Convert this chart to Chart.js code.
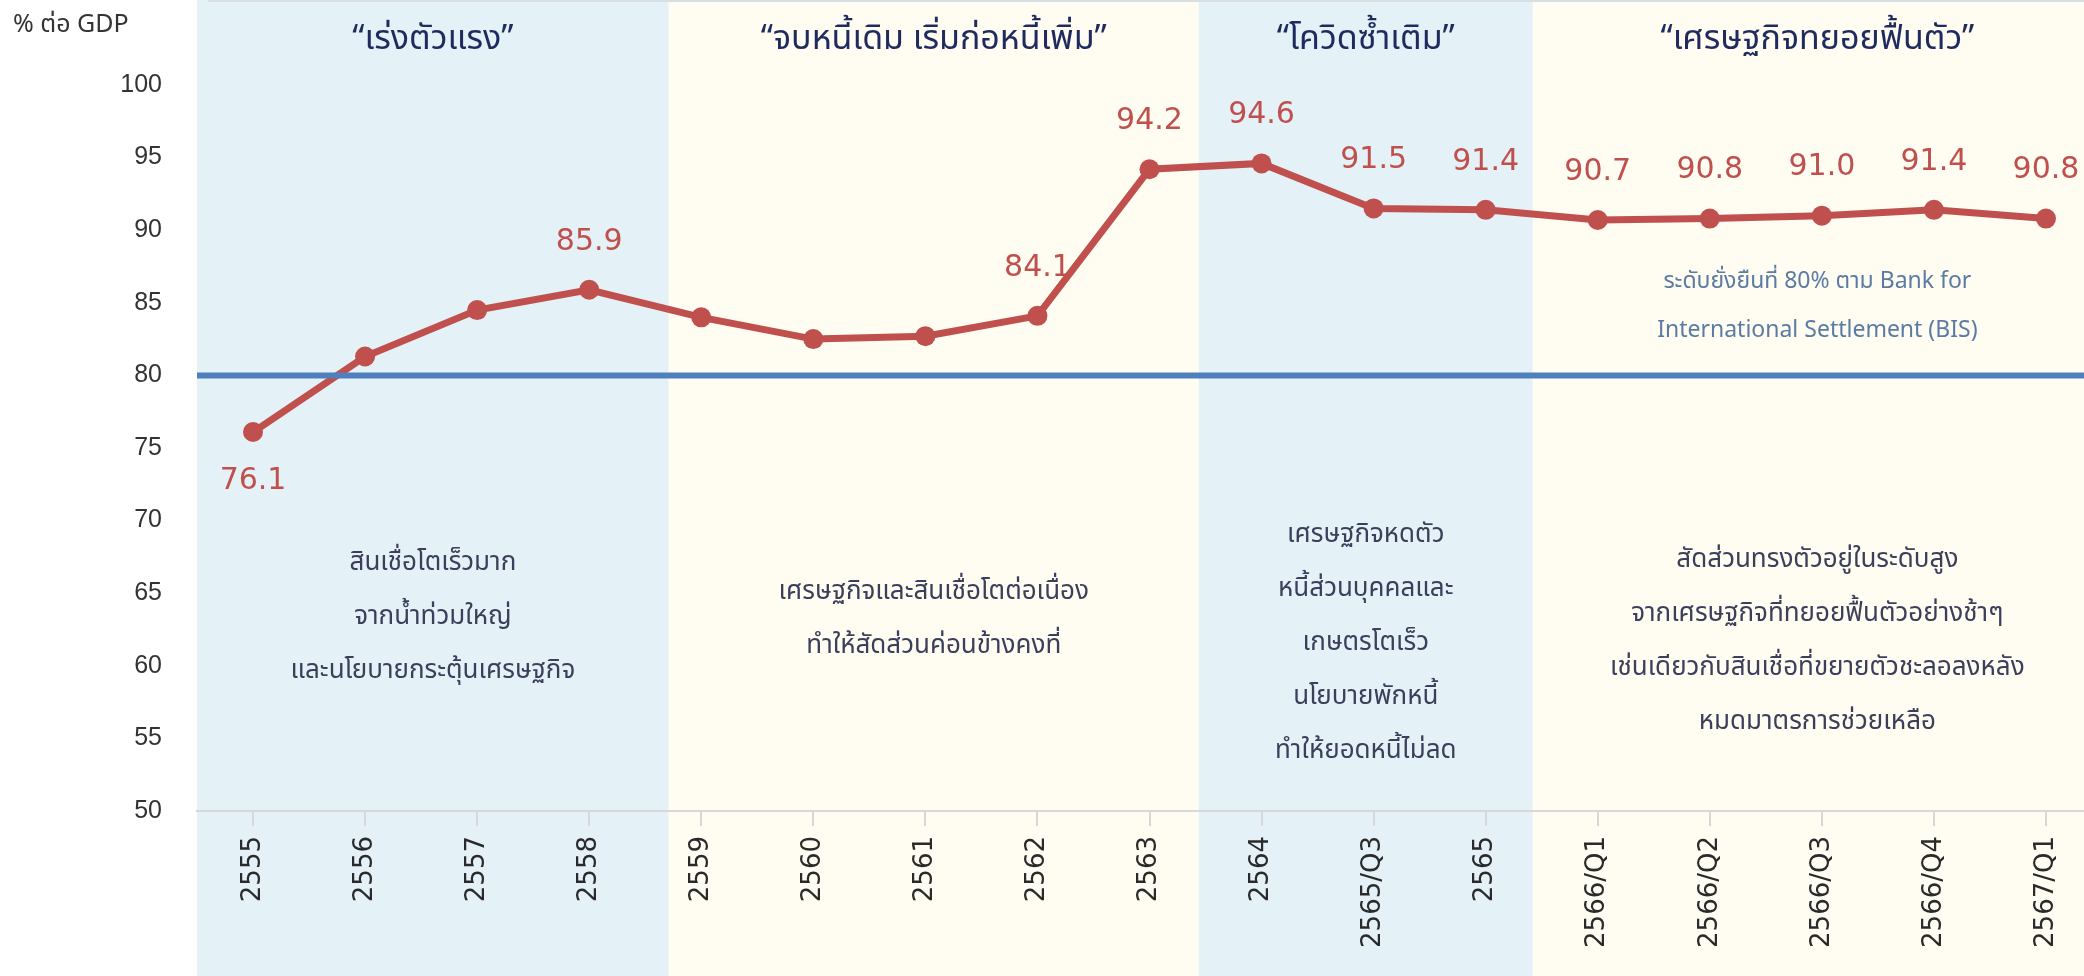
<!DOCTYPE html>
<html>
<head>
<meta charset="utf-8">
<script src="https://cdn.jsdelivr.net/npm/chart.js@4.4.1/dist/chart.umd.min.js"></script>
<style>
  html, body { margin: 0; padding: 0; background: #fff; overflow: hidden; }
  #wrap { width: 2112px; height: 976px; position: relative; }
</style>
</head>
<body>
<div id="wrap"><canvas id="debt"></canvas></div>
<script>
// household debt to GDP (% ต่อ GDP)
const periods = ["2555", "2556", "2557", "2558", "2559", "2560", "2561", "2562", "2563",
  "2564", "2565/Q3", "2565", "2566/Q1", "2566/Q2", "2566/Q3", "2566/Q4", "2567/Q1"];
const debtRatio = [76.1, 81.3, 84.5, 85.9, 84.0, 82.5, 82.7, 84.1, 94.2,
  94.6, 91.5, 91.4, 90.7, 90.8, 91.0, 91.4, 90.8];
// which points carry a value label, and which one sits below the point
const showLabel = [1, 0, 0, 1, 0, 0, 0, 1, 1, 1, 1, 1, 1, 1, 1, 1, 1];
const labelBelow = [1, 0, 0, 0, 0, 0, 0, 0, 0, 0, 0, 0, 0, 0, 0, 0, 0];
const sustainableLevel = 80;
const yMin = 50, yMax = 100, yStep = 5;

// phases (edges in category index units)
const phaseEdges = [-0.5, 3.71, 8.44, 11.42, 16.5];
const phaseTitles = ["“เร่งตัวแรง”", "“จบหนี้เดิม เริ่มก่อหนี้เพิ่ม”", "“โควิดซ้ำเติม”", "“เศรษฐกิจทยอยฟื้นตัว”"];
const phaseNotes = [
  ["สินเชื่อโตเร็วมาก", "จากน้ำท่วมใหญ่", "และนโยบายกระตุ้นเศรษฐกิจ"],
  ["เศรษฐกิจและสินเชื่อโตต่อเนื่อง", "ทำให้สัดส่วนค่อนข้างคงที่"],
  ["เศรษฐกิจหดตัว", "หนี้ส่วนบุคคลและ", "เกษตรโตเร็ว", "นโยบายพักหนี้", "ทำให้ยอดหนี้ไม่ลด"],
  ["สัดส่วนทรงตัวอยู่ในระดับสูง", "จากเศรษฐกิจที่ทยอยฟื้นตัวอย่างช้าๆ", "เช่นเดียวกับสินเชื่อที่ขยายตัวชะลอลงหลัง", "หมดมาตรการช่วยเหลือ"]
];
const bisNote = ["ระดับยั่งยืนที่ 80% ตาม Bank for", "International Settlement (BIS)"];
const yTitle = "% ต่อ GDP";

const phaseFill = ["#e4f1f7", "#fffcf1", "#e4f1f7", "#fffcf1"];
const noteTop = [565, 594, 537, 562];
const thaiFont = '"Noto Sans Thai", "Noto Sans Thai Looped", Garuda, Loma, Sarabun, "Noto Sans", sans-serif';

const decor = {
  id: "decor",
  beforeDraw(chart) {
    const ctx = chart.ctx, x = chart.scales.x;
    ctx.save();
    for (let i = 0; i < phaseFill.length; i++) {
      const a = x.getPixelForValue(phaseEdges[i]);
      const b = x.getPixelForValue(phaseEdges[i + 1]);
      ctx.fillStyle = phaseFill[i];
      ctx.fillRect(a, 0, b - a, chart.height);
    }
    ctx.fillStyle = "#d9dee3";
    ctx.fillRect(x.getPixelForValue(-0.4), 0, chart.width, 2);
    ctx.restore();
  },
  beforeDatasetsDraw(chart) {
    const ctx = chart.ctx, x = chart.scales.x;
    ctx.save();
    ctx.textAlign = "center";
    ctx.textBaseline = "middle";
    for (let i = 0; i < phaseTitles.length; i++) {
      const cx = x.getPixelForValue((phaseEdges[i] + phaseEdges[i + 1]) / 2);
      ctx.fillStyle = "#1f2b5e";
      ctx.font = "34px " + thaiFont;
      ctx.fillText(phaseTitles[i], cx, 42);
      ctx.fillStyle = "#3c3f5c";
      ctx.font = "26px " + thaiFont;
      phaseNotes[i].forEach((line, k) => ctx.fillText(line, cx, noteTop[i] + k * 54));
    }
    const cx4 = x.getPixelForValue((phaseEdges[3] + phaseEdges[4]) / 2);
    ctx.fillStyle = "#5b7ba3";
    ctx.font = "23px " + thaiFont;
    bisNote.forEach((line, k) => ctx.fillText(line, cx4, 283 + k * 49));

    ctx.textAlign = "left";
    ctx.fillStyle = "#333";
    ctx.font = "25px " + thaiFont;
    ctx.fillText(yTitle, 13, 27);
    ctx.restore();
  },
  afterDatasetsDraw(chart) {
    const ctx = chart.ctx, y = chart.scales.y, area = chart.chartArea;
    const meta = chart.getDatasetMeta(0);
    ctx.save();
    // sustainable level line, drawn over the series
    ctx.strokeStyle = "#4f7fbd";
    ctx.lineWidth = 6;
    const ly = y.getPixelForValue(sustainableLevel);
    ctx.beginPath();
    ctx.moveTo(area.left, ly);
    ctx.lineTo(chart.width, ly);
    ctx.stroke();

    ctx.fillStyle = "#c0504d";
    ctx.font = "30px 'DejaVu Sans'";
    ctx.textAlign = "center";
    ctx.textBaseline = "middle";
    meta.data.forEach((pt, i) => {
      if (!showLabel[i]) return;
      const dy = labelBelow[i] ? 49 : -48;
      ctx.fillText(debtRatio[i].toFixed(1), pt.x, pt.y + dy);
    });
    ctx.restore();
  }
};

new Chart(document.getElementById("debt"), {
  type: "line",
  data: {
    labels: periods,
    datasets: [{
      data: debtRatio,
      borderColor: "#c0504d",
      backgroundColor: "#c0504d",
      borderWidth: 7,
      pointRadius: 10,
      pointBorderWidth: 0,
      pointBackgroundColor: "#c0504d",
      tension: 0,
      clip: false
    }]
  },
  options: {
    responsive: true,
    maintainAspectRatio: false,
    animation: false,
    layout: { padding: { top: 85, left: 0, right: 0, bottom: 0 } },
    plugins: { legend: { display: false }, tooltip: { enabled: false } },
    scales: {
      x: {
        offset: true,
        grid: { drawOnChartArea: false, color: "#d8d8d8", tickLength: 15, lineWidth: 2 },
        border: { color: "#d8d8d8", width: 2 },
        ticks: {
          minRotation: 90, maxRotation: 90, padding: 10, autoSkip: false,
          color: "#2a2a2a", font: { family: "DejaVu Sans", size: 26 }
        },
        afterFit(s) { s.height = 165; }
      },
      y: {
        min: yMin, max: yMax,
        grid: { display: false, drawTicks: false },
        border: { display: false },
        ticks: { stepSize: yStep, padding: 35, color: "#333", font: { family: "Liberation Sans", size: 25 } },
        afterFit(s) { s.width = 197; }
      }
    }
  },
  plugins: [decor]
});
</script>
</body>
</html>
